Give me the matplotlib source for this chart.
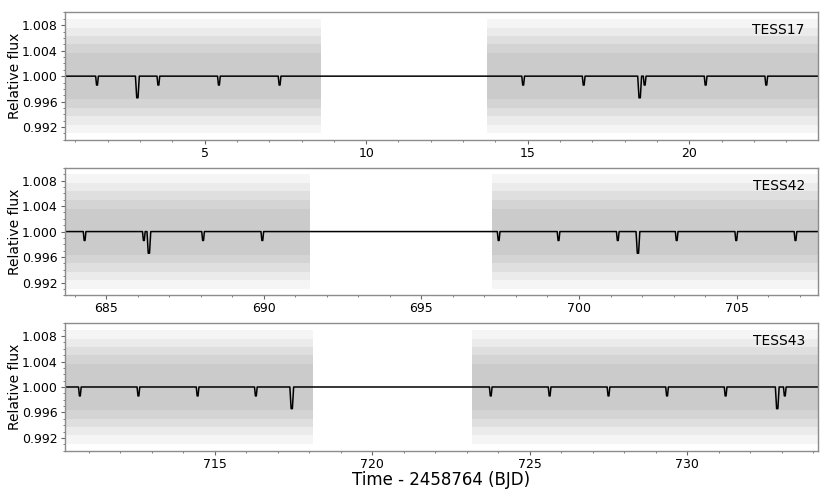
import numpy as np
import matplotlib
matplotlib.use('Agg')
import matplotlib.pyplot as plt
from matplotlib.ticker import MultipleLocator

# sector names and plotted time range (BJD - 2458764)
sectores = ['TESS17', 'TESS42', 'TESS43']
limites_x = [(0.67, 23.97), (683.68, 707.57), (710.23, 734.14)]
ticks_x = [[5, 10, 15, 20], [685, 690, 695, 700, 705], [715, 720, 725, 730]]

# time ranges with photometry
tramos = [
    [(0.67, 8.61), (13.73, 23.97)],
    [(683.68, 691.47), (697.23, 707.57)],
    [(710.23, 718.12), (723.16, 734.14)],
]

# transit centres
t_chico = [
    [1.669, 3.568, 5.442, 7.320, 14.858, 16.732, 18.619, 20.506, 22.383],
    [684.31, 686.19, 688.07, 689.95, 697.45, 699.35, 701.23, 703.10, 704.99, 706.87],
    [710.71, 712.57, 714.45, 716.30, 723.76, 725.63, 727.50, 729.36, 731.22, 733.10],
]
t_grande = [[2.918, 18.464], [686.35, 701.87], [717.44, 732.86]]
prof_chico = 0.0014
prof_grande = 0.0034
ancho_chico = 0.085
ancho_grande = 0.12

# scatter envelope of the flux (half widths around 1.0) and its grey
bandas = [(0.0090, '#f5f5f5'), (0.0076, '#ebebeb'), (0.0063, '#dfdfdf'),
          (0.0050, '#d4d4d4'), (0.0036, '#cbcbcb')]


def curva_modelo(t0, t1, grandes, chicos):
	# flat line with a trapezoid dip at every transit
	dips = [(t, prof_grande, ancho_grande) for t in grandes]
	dips += [(t, prof_chico, ancho_chico) for t in chicos]
	dips.sort()
	xs = [t0]
	ys = [1.0]
	for tc, d, w in dips:
		xs += [tc - w / 2, tc - w / 6, tc + w / 6, tc + w / 2]
		ys += [1.0, 1.0 - d, 1.0 - d, 1.0]
	xs.append(t1)
	ys.append(1.0)
	return np.array(xs), np.array(ys)


fig, axes = plt.subplots(3, 1, figsize=(8.3, 4.98), dpi=100)
plt.subplots_adjust(left=0.078, right=0.985, top=0.975, bottom=0.095, hspace=0.22)

for i, ax in enumerate(axes):
	for a, b in tramos[i]:
		for h, c in bandas:
			ax.fill_between([a, b], 1 - h, 1 + h, color=c, lw=0)

	x, y = curva_modelo(limites_x[i][0], limites_x[i][1], t_grande[i], t_chico[i])
	ax.plot(x, y, color='black', lw=1.1)

	ax.set_xlim(*limites_x[i])
	ax.set_ylim(0.990, 1.010)
	ax.set_xticks(ticks_x[i])
	ax.xaxis.set_minor_locator(MultipleLocator(1))
	ax.set_yticks([0.992, 0.996, 1.000, 1.004, 1.008])
	ax.yaxis.set_minor_locator(MultipleLocator(0.001))
	ax.set_yticklabels(['0.992', '0.996', '1.000', '1.004', '1.008'])
	ax.tick_params(labelsize=9, length=3, width=0.8, pad=2, colors='0.4', labelcolor='black')
	ax.tick_params(which='minor', length=1.5, width=0.6, colors='0.4')
	for s in ax.spines.values():
		s.set_color('0.55')
		s.set_linewidth(1.0)
	ax.set_ylabel('Relative flux', fontsize=10)
	ax.yaxis.set_label_coords(-0.057, 0.5)
	ax.text(0.983, 0.86, sectores[i], transform=ax.transAxes, ha='right', va='center', fontsize=10)

axes[-1].set_xlabel('Time - 2458764 (BJD)', fontsize=12, labelpad=0)

plt.savefig('out.png', dpi=100)
